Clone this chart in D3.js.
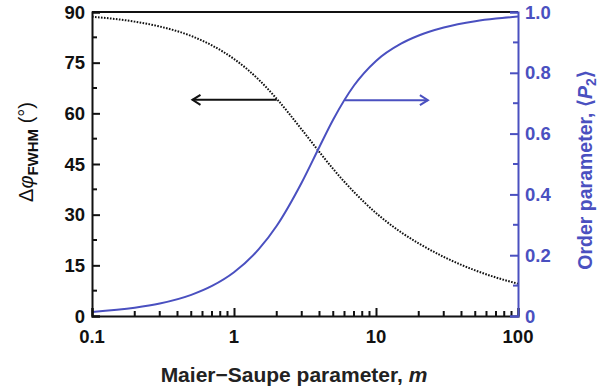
<!DOCTYPE html>
<html><head><meta charset="utf-8">
<script src="https://cdn.jsdelivr.net/npm/d3@7"></script>
<style>body{margin:0;background:#fff}svg{display:block}text{font-family:"Liberation Sans",Arial,sans-serif;font-weight:bold}</style>
</head><body><svg id="c" width="605" height="389"></svg>
<script>
// Maier–Saupe parameter m (x values)
const mValues = [0.1,0.2,0.3,0.5,0.7,1,1.5,2,3,4,5,7,10,15,20,30,50,70,100];
// FWHM of orientation distribution (degrees), left axis
const fwhm = [88.6,87.15,85.7,82.9,80.1,76.1,69.9,64.3,55.2,48.5,43.5,36.7,30.5,24.8,21.5,17.5,13.5,11.4,9.55];
// Order parameter <P2>, right axis
const p2 = [0.0135,0.0272,0.0411,0.0696,0.0989,0.1439,0.2205,0.2969,0.4393,0.5569,0.6464,0.7581,0.8391,0.8959,0.9228,0.9491,0.9697,0.9784,0.9849];
const xTicks = [0.1,1,10,100];
const xTickLabels = ["0.1","1","10","100"];
const leftTicks = [0,15,30,45,60,75,90];
const rightTicks = [0,0.2,0.4,0.6,0.8,1.0];
const rightTickLabels = ["0","0.2","0.4","0.6","0.8","1.0"];
// annotation arrows: [m start, m end, value on its axis]
const arrowLeft = {from:2.0, to:0.51, value:64};
const arrowRight = {from:6.05, to:23.2, value:0.71};

const blue = "#4a50c0";
const svg = d3.select("#c");
const L=92, R=518, T=12, B=316;
const x = d3.scaleLog().domain([0.1,100]).range([L,R]);
const yL = d3.scaleLinear().domain([0,90]).range([B,T]);
const yR = d3.scaleLinear().domain([0,1]).range([B,T]);

// curves
svg.append("path").datum(mValues.map((m,i)=>[m,fwhm[i]]))
  .attr("d", d3.line().x(d=>x(d[0])).y(d=>yL(d[1])).curve(d3.curveMonotoneX))
  .attr("fill","none").attr("stroke","#111").attr("stroke-width",2).attr("stroke-dasharray","1.6,1.4");
svg.append("path").datum(mValues.map((m,i)=>[m,p2[i]]))
  .attr("d", d3.line().x(d=>x(d[0])).y(d=>yR(d[1])).curve(d3.curveMonotoneX))
  .attr("fill","none").attr("stroke",blue).attr("stroke-width",2);

// arrows
function arrow(a, yScale, color){
  const x0=x(a.from), x1=x(a.to), yy=yScale(a.value);
  const dir = x1<x0 ? 1 : -1;
  svg.append("line").attr("x1",x0).attr("x2",x1).attr("y1",yy).attr("y2",yy)
    .attr("stroke",color).attr("stroke-width",2);
  svg.append("path").attr("d",`M${x1+dir*8},${yy-5}L${x1},${yy}L${x1+dir*8},${yy+5}`)
    .attr("fill","none").attr("stroke",color).attr("stroke-width",2);
}
arrow(arrowLeft, yL, "#111");
arrow(arrowRight, yR, blue);

// frame: top
svg.append("line").attr("x1",L).attr("x2",R).attr("y1",T).attr("y2",T).attr("stroke","#111").attr("stroke-width",2);

// bottom axis
const minorX = [];
[0.1,1,10].forEach(d=>{for(let k=2;k<=9;k++) minorX.push(d*k);});
const gx = svg.append("g").attr("transform",`translate(0,${B})`);
gx.call(d3.axisTop(x).tickValues(xTicks).tickSize(8).tickFormat(()=>""));
gx.call(g=>g.selectAll(".minor").data(minorX).join("line").attr("class","minor")
  .attr("x1",d=>x(d)).attr("x2",d=>x(d)).attr("y1",0).attr("y2",-5).attr("stroke","#111").attr("stroke-width",2));
gx.select(".domain").attr("stroke","#111").attr("stroke-width",2);
gx.selectAll(".tick line").attr("stroke","#111").attr("stroke-width",2);
svg.selectAll(".xlab").data(xTicks).join("text").attr("class","xlab")
  .attr("x",d=>x(d)).attr("y",343).attr("text-anchor","middle").attr("font-size",18.5).attr("fill","#111")
  .text((d,i)=>xTickLabels[i]);

// left axis
const gl = svg.append("g").attr("transform",`translate(${L},0)`);
gl.call(d3.axisRight(yL).tickValues(leftTicks).tickSize(8).tickFormat(()=>""));
gl.selectAll(".minor").data(d3.range(7.5,90,15)).join("line").attr("class","minor")
  .attr("x1",0).attr("x2",5).attr("y1",d=>yL(d)).attr("y2",d=>yL(d)).attr("stroke","#111").attr("stroke-width",2);
gl.select(".domain").attr("stroke","#111").attr("stroke-width",2);
gl.selectAll(".tick line").attr("stroke","#111").attr("stroke-width",2);
svg.selectAll(".ylab").data(leftTicks).join("text").attr("class","ylab")
  .attr("x",85).attr("y",d=>yL(d)+6.5).attr("text-anchor","end").attr("font-size",18.5).attr("fill","#111")
  .text(d=>d);

// right axis
const gr = svg.append("g").attr("transform",`translate(${R},0)`);
gr.call(d3.axisLeft(yR).tickValues(rightTicks).tickSize(8).tickFormat(()=>""));
gr.selectAll(".minor").data(d3.range(0.1,1,0.2)).join("line").attr("class","minor")
  .attr("x1",0).attr("x2",-5).attr("y1",d=>yR(d)).attr("y2",d=>yR(d)).attr("stroke",blue).attr("stroke-width",2);
gr.select(".domain").attr("stroke",blue).attr("stroke-width",2);
gr.selectAll(".tick line").attr("stroke",blue).attr("stroke-width",2);
svg.selectAll(".rlab").data(rightTicks).join("text").attr("class","rlab")
  .attr("x",525).attr("y",d=>yR(d)+6.5).attr("text-anchor","start").attr("font-size",18.5).attr("fill",blue)
  .text((d,i)=>rightTickLabels[i]);

// axis titles
const tl = svg.append("text").attr("transform","translate(33,152) rotate(-90)").attr("text-anchor","middle").attr("fill","#111").attr("font-size",20);
tl.append("tspan").attr("font-weight","normal").text("Δ");
tl.append("tspan").attr("font-weight","normal").attr("font-style","italic").text("φ");
tl.append("tspan").attr("font-size",15).attr("dy",5).text("FWHM");
tl.append("tspan").attr("font-weight","normal").attr("dy",-5).text(" (°)");

const tr = svg.append("text").attr("transform","translate(592,170) rotate(-90)").attr("text-anchor","middle").attr("fill",blue).attr("font-size",19.5);
tr.append("tspan").text("Order parameter, ⟨");
tr.append("tspan").attr("font-style","italic").text("P");
tr.append("tspan").attr("font-size",14).attr("dy",4).text("2");
tr.append("tspan").attr("dy",-4).text("⟩");

const tb = svg.append("text").attr("x",294).attr("y",382).attr("text-anchor","middle").attr("fill","#222").attr("font-size",21);
tb.append("tspan").text("Maier−Saupe parameter, ");
tb.append("tspan").attr("font-style","italic").text("m");
</script></body></html>
